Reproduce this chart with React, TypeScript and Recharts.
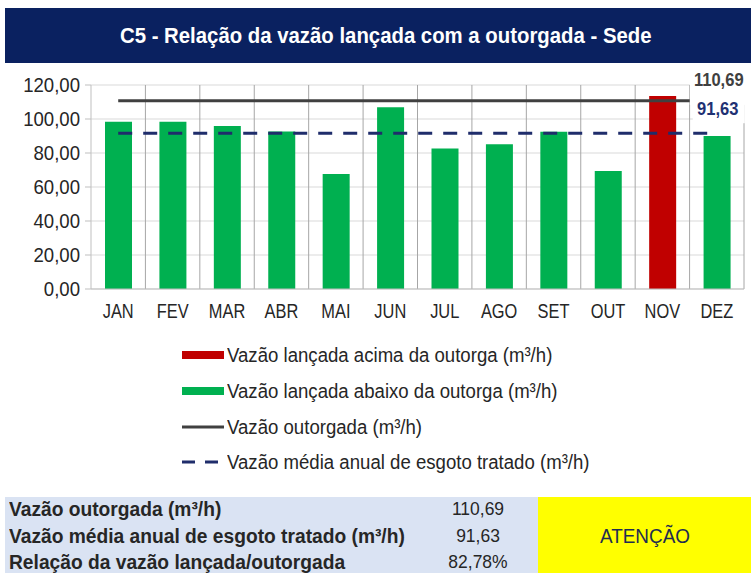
import React from 'react';
import { ComposedChart, Bar, Line, XAxis, YAxis, CartesianGrid, LabelList } from 'recharts';

const meses = ['JAN', 'FEV', 'MAR', 'ABR', 'MAI', 'JUN', 'JUL', 'AGO', 'SET', 'OUT', 'NOV', 'DEZ'];
const vazaoLancada = [98.4, 98.4, 95.9, 92.7, 67.6, 106.9, 82.7, 85.1, 92.5, 69.4, 113.5, 90.0];
const vazaoOutorgada = 110.69;
const vazaoMedia = 91.63;
const relacaoTexto = '82,78%';
const yTicks = [0, 20, 40, 60, 80, 100, 120];

const FONT = "'Liberation Sans', Arial, sans-serif";
const fmt = (v: number) => v.toFixed(2).replace('.', ',');

const data = meses.map((m, i) => ({
  mes: m,
  acima: vazaoLancada[i] > vazaoOutorgada ? vazaoLancada[i] : null,
  abaixo: vazaoLancada[i] <= vazaoOutorgada ? vazaoLancada[i] : null,
  outorgada: vazaoOutorgada,
  media: vazaoMedia,
}));

const lastIdx = meses.length - 1;

const OutLabel = (props: any) => {
  const { x, y, index, value } = props;
  if (index !== lastIdx) return null;
  return (
    <g>
      <rect x={x - 27} y={y - 33} width={60} height={37} fill="#ffffff" />
      <text x={x + 2} y={y - 20} textAnchor="middle" dominantBaseline="middle" fontFamily={FONT} fontWeight="bold" fontSize={18} fill="#404040" transform={`translate(${x + 2},0) scale(0.92,1) translate(${-(x + 2)},0)`}>
        {fmt(value)}
      </text>
    </g>
  );
};

const MedLabel = (props: any) => {
  const { x, y, index, value } = props;
  if (index !== lastIdx) return null;
  return (
    <g>
      <rect x={x - 24} y={y - 34} width={52} height={24} fill="#ffffff" />
      <text x={x + 1} y={y - 23} textAnchor="middle" dominantBaseline="middle" fontFamily={FONT} fontWeight="bold" fontSize={18} fill="#1f3173" transform={`translate(${x + 1},0) scale(0.92,1) translate(${-(x + 1)},0)`}>
        {fmt(value)}
      </text>
    </g>
  );
};

const XTick = (props: any) => {
  const { x, y, payload } = props;
  return (
    <g transform={`translate(${x},${y}) scale(0.8,1)`}>
      <text x={0} y={0} dy="0.71em" textAnchor="middle" fontFamily={FONT} fontSize={20.5} fill="#262626">{payload.value}</text>
    </g>
  );
};

const YTick = (props: any) => {
  const { x, y, payload } = props;
  return (
    <g transform={`translate(${x},${y}) scale(0.93,1)`}>
      <text x={0} y={0} dy="0.355em" textAnchor="end" fontFamily={FONT} fontSize={20} fill="#262626">{fmt(payload.value)}</text>
    </g>
  );
};

const vGen = ({ offset }: any) => {
  const out: number[] = [];
  for (let i = 1; i <= meses.length; i++) out.push(offset.left + (i * offset.width) / meses.length);
  return out;
};

const legendItems = [
  { label: 'Vazão lançada acima da outorga (m³/h)', kind: 'bar', color: '#c00000' },
  { label: 'Vazão lançada abaixo da outorga (m³/h)', kind: 'bar', color: '#00b050' },
  { label: 'Vazão outorgada (m³/h)', kind: 'line', color: '#404040' },
  { label: 'Vazão média anual de esgoto tratado (m³/h)', kind: 'dash', color: '#1f2d6b' },
];

const squeeze = (s: number): React.CSSProperties => ({ transform: `scaleX(${s})`, transformOrigin: 'left center', whiteSpace: 'nowrap' });

export default function App() {
  return (
    <div style={{ position: 'absolute', left: 0, top: 0, width: 751, height: 573, background: '#ffffff', overflow: 'hidden', fontFamily: FONT }}>
      <div style={{ position: 'absolute', left: 5, top: 8, width: 746, height: 55, background: '#0a2160' }} />
      <div style={{ position: 'absolute', left: 120, top: 8, height: 55, lineHeight: '55px', color: '#fff', fontSize: 22, fontWeight: 'bold', ...squeeze(0.925) }}>
        C5 - Relação da vazão lançada com a outorgada - Sede
      </div>
      <div style={{ position: 'absolute', left: 0, top: 0 }}>
        <ComposedChart width={751} height={330} data={data} margin={{ top: 85, right: 7, left: 0, bottom: 11 }} barGap={0}>
          <CartesianGrid stroke="#d9d9d9" vertical={false} />
          <CartesianGrid stroke="#a6a6a6" horizontal={false} verticalCoordinatesGenerator={vGen} />
          <XAxis dataKey="mes" height={30} tickLine={false} axisLine={{ stroke: '#bfbfbf' }} tickMargin={8} tick={<XTick />} interval={0} />
          <YAxis width={91} domain={[0, 120]} ticks={yTicks} axisLine={{ stroke: '#bfbfbf' }} tickLine={{ stroke: '#bfbfbf' }} tickSize={6} tickMargin={5} tick={<YTick />} />
          <Bar dataKey="abaixo" stackId="v" fill="#00b050" barSize={27} isAnimationActive={false} />
          <Bar dataKey="acima" stackId="v" fill="#c00000" barSize={27} isAnimationActive={false} />
          <Line dataKey="outorgada" stroke="#404040" strokeWidth={3} dot={false} isAnimationActive={false}>
            <LabelList dataKey="outorgada" content={OutLabel} />
          </Line>
          <Line dataKey="media" stroke="#1f2d6b" strokeWidth={3} strokeDasharray="14 11" dot={false} isAnimationActive={false}>
            <LabelList dataKey="media" content={MedLabel} />
          </Line>
        </ComposedChart>
      </div>
      {legendItems.map((it, i) => (
        <React.Fragment key={i}>
          <svg width={44} height={24} style={{ position: 'absolute', left: 182, top: 355 + i * 35.8 - 12 }}>
            {it.kind === 'bar' && <rect x={0} y={8} width={42} height={8} fill={it.color} />}
            {it.kind === 'line' && <line x1={0} x2={42} y1={12} y2={12} stroke={it.color} strokeWidth={3} />}
            {it.kind === 'dash' && <line x1={0} x2={42} y1={12} y2={12} stroke={it.color} strokeWidth={3} strokeDasharray="13 10" />}
          </svg>
          <div style={{ position: 'absolute', left: 227, top: 355 + i * 35.8 - 13, height: 26, lineHeight: '26px', fontSize: 20, color: '#262626', ...squeeze(0.93) }}>{it.label}</div>
        </React.Fragment>
      ))}
      <div style={{ position: 'absolute', left: 5, top: 497, width: 533, height: 76, background: '#dae3f3' }} />
      <div style={{ position: 'absolute', left: 538, top: 497, width: 213, height: 76, background: '#ffff00' }} />
      {[
        ['Vazão outorgada (m³/h)', fmt(vazaoOutorgada)],
        ['Vazão média anual de esgoto tratado (m³/h)', fmt(vazaoMedia)],
        ['Relação da vazão lançada/outorgada', relacaoTexto],
      ].map((r, i) => (
        <React.Fragment key={i}>
          <div style={{ position: 'absolute', left: 9, top: 509 + i * 26.5 - 13, height: 26, lineHeight: '26px', fontSize: 20, fontWeight: 'bold', color: '#262626', ...squeeze(0.96) }}>{r[0]}</div>
          <div style={{ position: 'absolute', left: 478, top: 509 + i * 26.5 - 13, height: 26, lineHeight: '26px', fontSize: 19, color: '#262626', transform: 'translateX(-50%) scaleX(0.92)', whiteSpace: 'nowrap' }}>{r[1]}</div>
        </React.Fragment>
      ))}
      <div style={{ position: 'absolute', left: 645, top: 536 - 13, height: 26, lineHeight: '26px', fontSize: 21, color: '#1f2d50', transform: 'translateX(-50%) scaleX(0.9)', whiteSpace: 'nowrap' }}>ATENÇÃO</div>
    </div>
  );
}
